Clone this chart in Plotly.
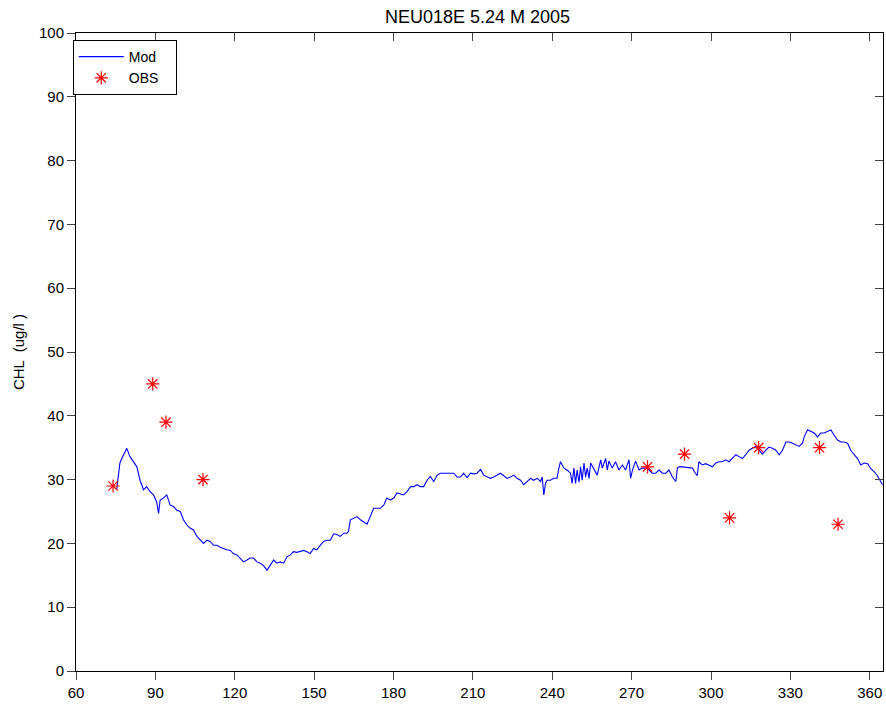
import plotly.graph_objects as go

mod_day = [75.4, 76.0, 76.6, 77.3, 78.5, 79.2, 80.4, 81.7, 83.0, 84.2, 85.5, 86.7, 88.0, 89.3, 90.5, 91.2, 91.8, 93.0, 94.3, 95.6,
           96.8, 98.1, 99.4, 100.6, 101.9, 103.1, 104.4, 105.7, 106.9, 108.2, 109.5, 110.7, 112.0, 113.2, 114.5, 115.7, 117.0, 118.3,
           119.5, 120.8, 122.0, 123.3, 124.6, 125.8, 127.1, 128.4, 129.6, 130.9, 132.2, 133.4, 134.7, 135.9, 137.2, 138.5, 139.7, 141.0,
           142.2, 143.5, 144.8, 146.0, 147.3, 148.5, 149.8, 151.0, 152.3, 153.6, 154.8, 156.1, 157.4, 158.6, 159.9, 161.2, 162.4, 163.0,
           163.7, 165.0, 166.2, 167.5, 168.7, 170.0, 171.2, 172.5, 173.8, 175.0, 176.3, 177.5, 178.8, 180.1, 181.3, 182.6, 183.8, 185.1,
           186.4, 187.6, 188.9, 190.1, 191.4, 192.7, 193.9, 195.2, 196.5, 197.7, 199.0, 200.2, 201.5, 202.8, 204.0, 205.3, 206.5, 207.8,
           209.1, 210.3, 211.6, 212.9, 214.1, 215.4, 216.6, 217.9, 219.2,
           220.4, 221.7, 222.9, 224.2, 225.5, 226.7, 228.0, 229.2, 230.5, 231.8, 233.0, 234.3, 235.6, 236.2, 236.8, 237.5, 238.1, 239.3,
           240.6, 241.8, 242.5, 243.1, 244.4, 245.6, 246.9, 247.5, 248.2, 248.8, 249.4, 250.1, 250.7, 251.3, 252.0, 252.6, 253.2, 253.9,
           254.5, 255.8, 257.0, 258.3, 258.9, 260.2, 260.8, 261.4, 262.7, 263.9, 265.2, 266.5, 267.7, 269.0, 269.6, 270.3, 271.5, 272.8,
           274.0, 275.3, 276.6, 277.8, 279.1, 280.4, 281.6, 282.9, 284.1, 285.4, 286.7, 287.3, 287.9, 289.2, 290.5, 291.7, 293.0, 293.6,
           294.8,
           295.4, 296.7, 298.0, 299.2, 300.5, 301.8, 303.0, 304.3, 305.6, 306.8, 308.1, 309.4, 310.6, 311.9, 313.1, 314.4, 315.6, 316.9,
           318.2, 319.4, 320.7, 321.9, 323.2, 324.5, 325.8, 327.0, 328.3, 329.5, 330.8, 332.1, 333.3, 334.6, 335.2, 336.5, 337.7, 339.0,
           340.3, 341.5, 342.8, 344.0, 345.3, 346.5, 347.8, 349.1, 350.3, 351.6, 352.8, 354.1, 355.4, 356.6, 357.9, 359.2, 360.4, 361.7,
           362.9, 364.8]

mod_val = [28.5, 30.2, 32.6, 33.3, 34.4, 34.9, 33.6, 32.8, 32.0, 29.9, 28.4, 28.9, 28.1, 27.6, 26.5, 24.7, 26.8, 27.1, 27.6, 26.0,
           25.8, 25.2, 25.0, 23.7, 22.9, 22.4, 22.1, 21.1, 20.5, 20.0, 20.5, 20.3, 19.7, 19.7, 19.4, 19.2, 19.0, 18.9,
           18.4, 18.2, 17.7, 17.1, 17.4, 17.7, 17.7, 17.1, 16.9, 16.5, 15.8, 16.6, 17.4, 16.9, 17.1, 16.9, 17.9, 18.2,
           18.7, 18.6, 18.7, 18.9, 18.7, 18.4, 19.2, 19.0, 19.7, 20.3, 20.5, 20.5, 21.5, 21.4, 21.1, 21.6, 21.6, 21.9,
           23.7, 24.0, 24.2, 23.7, 23.4, 23.0, 24.2, 25.5, 25.5, 25.5, 26.0, 27.1, 26.8, 27.1, 27.9, 27.8, 27.6, 28.1,
           28.9, 28.9, 29.2, 28.9, 28.9, 29.9, 30.5, 29.7, 30.7, 31.0, 31.0, 31.0, 31.1, 31.0, 30.4, 30.4, 31.0, 30.3,
           31.0, 30.9, 31.0, 31.6, 30.7, 30.5, 30.2, 30.4, 30.7,
           31.0, 30.6, 30.2, 30.4, 30.7, 30.2, 29.9, 29.2, 29.7, 30.2, 29.9, 30.2, 29.7, 30.4, 27.6, 29.5, 29.9, 29.9,
           30.2, 30.2, 31.8, 32.8, 31.8, 31.5, 31.0, 29.4, 31.8, 29.4, 31.5, 29.6, 32.0, 29.9, 32.6, 30.4, 31.8, 30.2,
           32.6, 31.5, 30.7, 33.1, 31.8, 33.3, 31.5, 32.9, 31.8, 32.8, 31.5, 32.3, 31.5, 33.1, 30.2, 31.5, 32.9, 31.5,
           31.8, 31.8, 31.5, 31.0, 31.0, 31.5, 31.0, 31.0, 31.5, 30.4, 29.7, 31.8, 32.0, 32.0, 31.9, 31.8, 31.8, 31.3,
           30.6,
           32.8, 32.3, 32.5, 32.3, 32.0, 32.6, 32.8, 32.8, 33.1, 32.8, 33.3, 33.9, 33.6, 33.3, 33.9, 34.6, 34.9, 35.2,
           34.6, 34.0, 34.6, 35.1, 34.9, 34.6, 33.9, 34.6, 35.9, 35.9, 35.7, 35.4, 35.2, 35.7, 36.7, 37.8, 37.6, 37.3,
           36.7, 37.3, 37.3, 37.5, 37.8, 37.0, 36.2, 35.9, 35.9, 35.7, 34.6, 33.9, 33.3, 32.3, 32.6, 32.5, 31.7, 31.2,
           30.6, 29.2]

obs_day = [74, 89, 94, 108, 276, 290, 307, 318, 341, 348]
obs_val = [29, 45, 39, 30, 32, 34, 24, 35, 35, 23]

x_ticks = [60, 90, 120, 150, 180, 210, 240, 270, 300, 330, 360]
y_ticks = [0, 10, 20, 30, 40, 50, 60, 70, 80, 90, 100]

title_text = "NEU018E 5.24 M 2005"
y_title = "CHL  (ug/l )"

FONT = "Arial, Liberation Sans, sans-serif"

fig = go.Figure()
fig.add_trace(go.Scatter(x=mod_day, y=mod_val, mode="lines", name="Mod\u00a0\u00a0\u00a0",
                         line=dict(color="#0000ff", width=1.1)))
fig.add_trace(go.Scatter(x=obs_day, y=obs_val, mode="markers", name="OBS\u00a0\u00a0\u00a0",
                         marker=dict(symbol="asterisk-open", size=11, color="#ff0000",
                                     line=dict(color="#ff0000", width=1.2))))
# invisible trace to anchor the mirrored (inside-tick) axes
fig.add_trace(go.Scatter(x=[x_ticks[0]], y=[y_ticks[0]], xaxis="x2", yaxis="y2",
                         mode="markers", marker=dict(opacity=0), showlegend=False, hoverinfo="skip"))

xr = [60, 365]
yr = [0, 100]

fig.update_layout(
    width=886, height=707,
    margin=dict(l=76, r=3, t=33, b=36),
    paper_bgcolor="white", plot_bgcolor="white",
    font=dict(family=FONT, size=15, color="black"),
    title=dict(text=title_text, x=0.539, xanchor="center", y=0.985, yanchor="top",
               font=dict(family=FONT, size=18, color="black")),
    showlegend=True,
    legend=dict(x=-0.004, y=0.989, xanchor="left", yanchor="top",
                bordercolor="black", borderwidth=1, bgcolor="white",
                font=dict(family=FONT, size=14, color="black"),
                tracegroupgap=0, itemwidth=45),
    xaxis=dict(range=xr, tickvals=x_ticks, ticks="outside", ticklen=8, tickcolor="#444",
               showline=True, linecolor="black", linewidth=1, showgrid=False, zeroline=False,
               tickfont=dict(size=15)),
    yaxis=dict(range=yr, tickvals=y_ticks, ticks="outside", ticklen=8, tickcolor="#444",
               showline=True, linecolor="black", linewidth=1, showgrid=False, zeroline=False,
               title=dict(text=y_title, font=dict(size=15), standoff=10), tickfont=dict(size=15)),
    xaxis2=dict(range=xr, tickvals=x_ticks, ticks="inside", ticklen=8, tickcolor="#444",
                overlaying="x", side="top", anchor="y2", showticklabels=False,
                showline=True, linecolor="black", linewidth=1, showgrid=False, zeroline=False),
    yaxis2=dict(range=yr, tickvals=y_ticks, ticks="inside", ticklen=8, tickcolor="#444",
                overlaying="y", side="right", anchor="x2", showticklabels=False,
                showline=True, linecolor="black", linewidth=1, showgrid=False, zeroline=False),
)

fig.write_html("out.html")
